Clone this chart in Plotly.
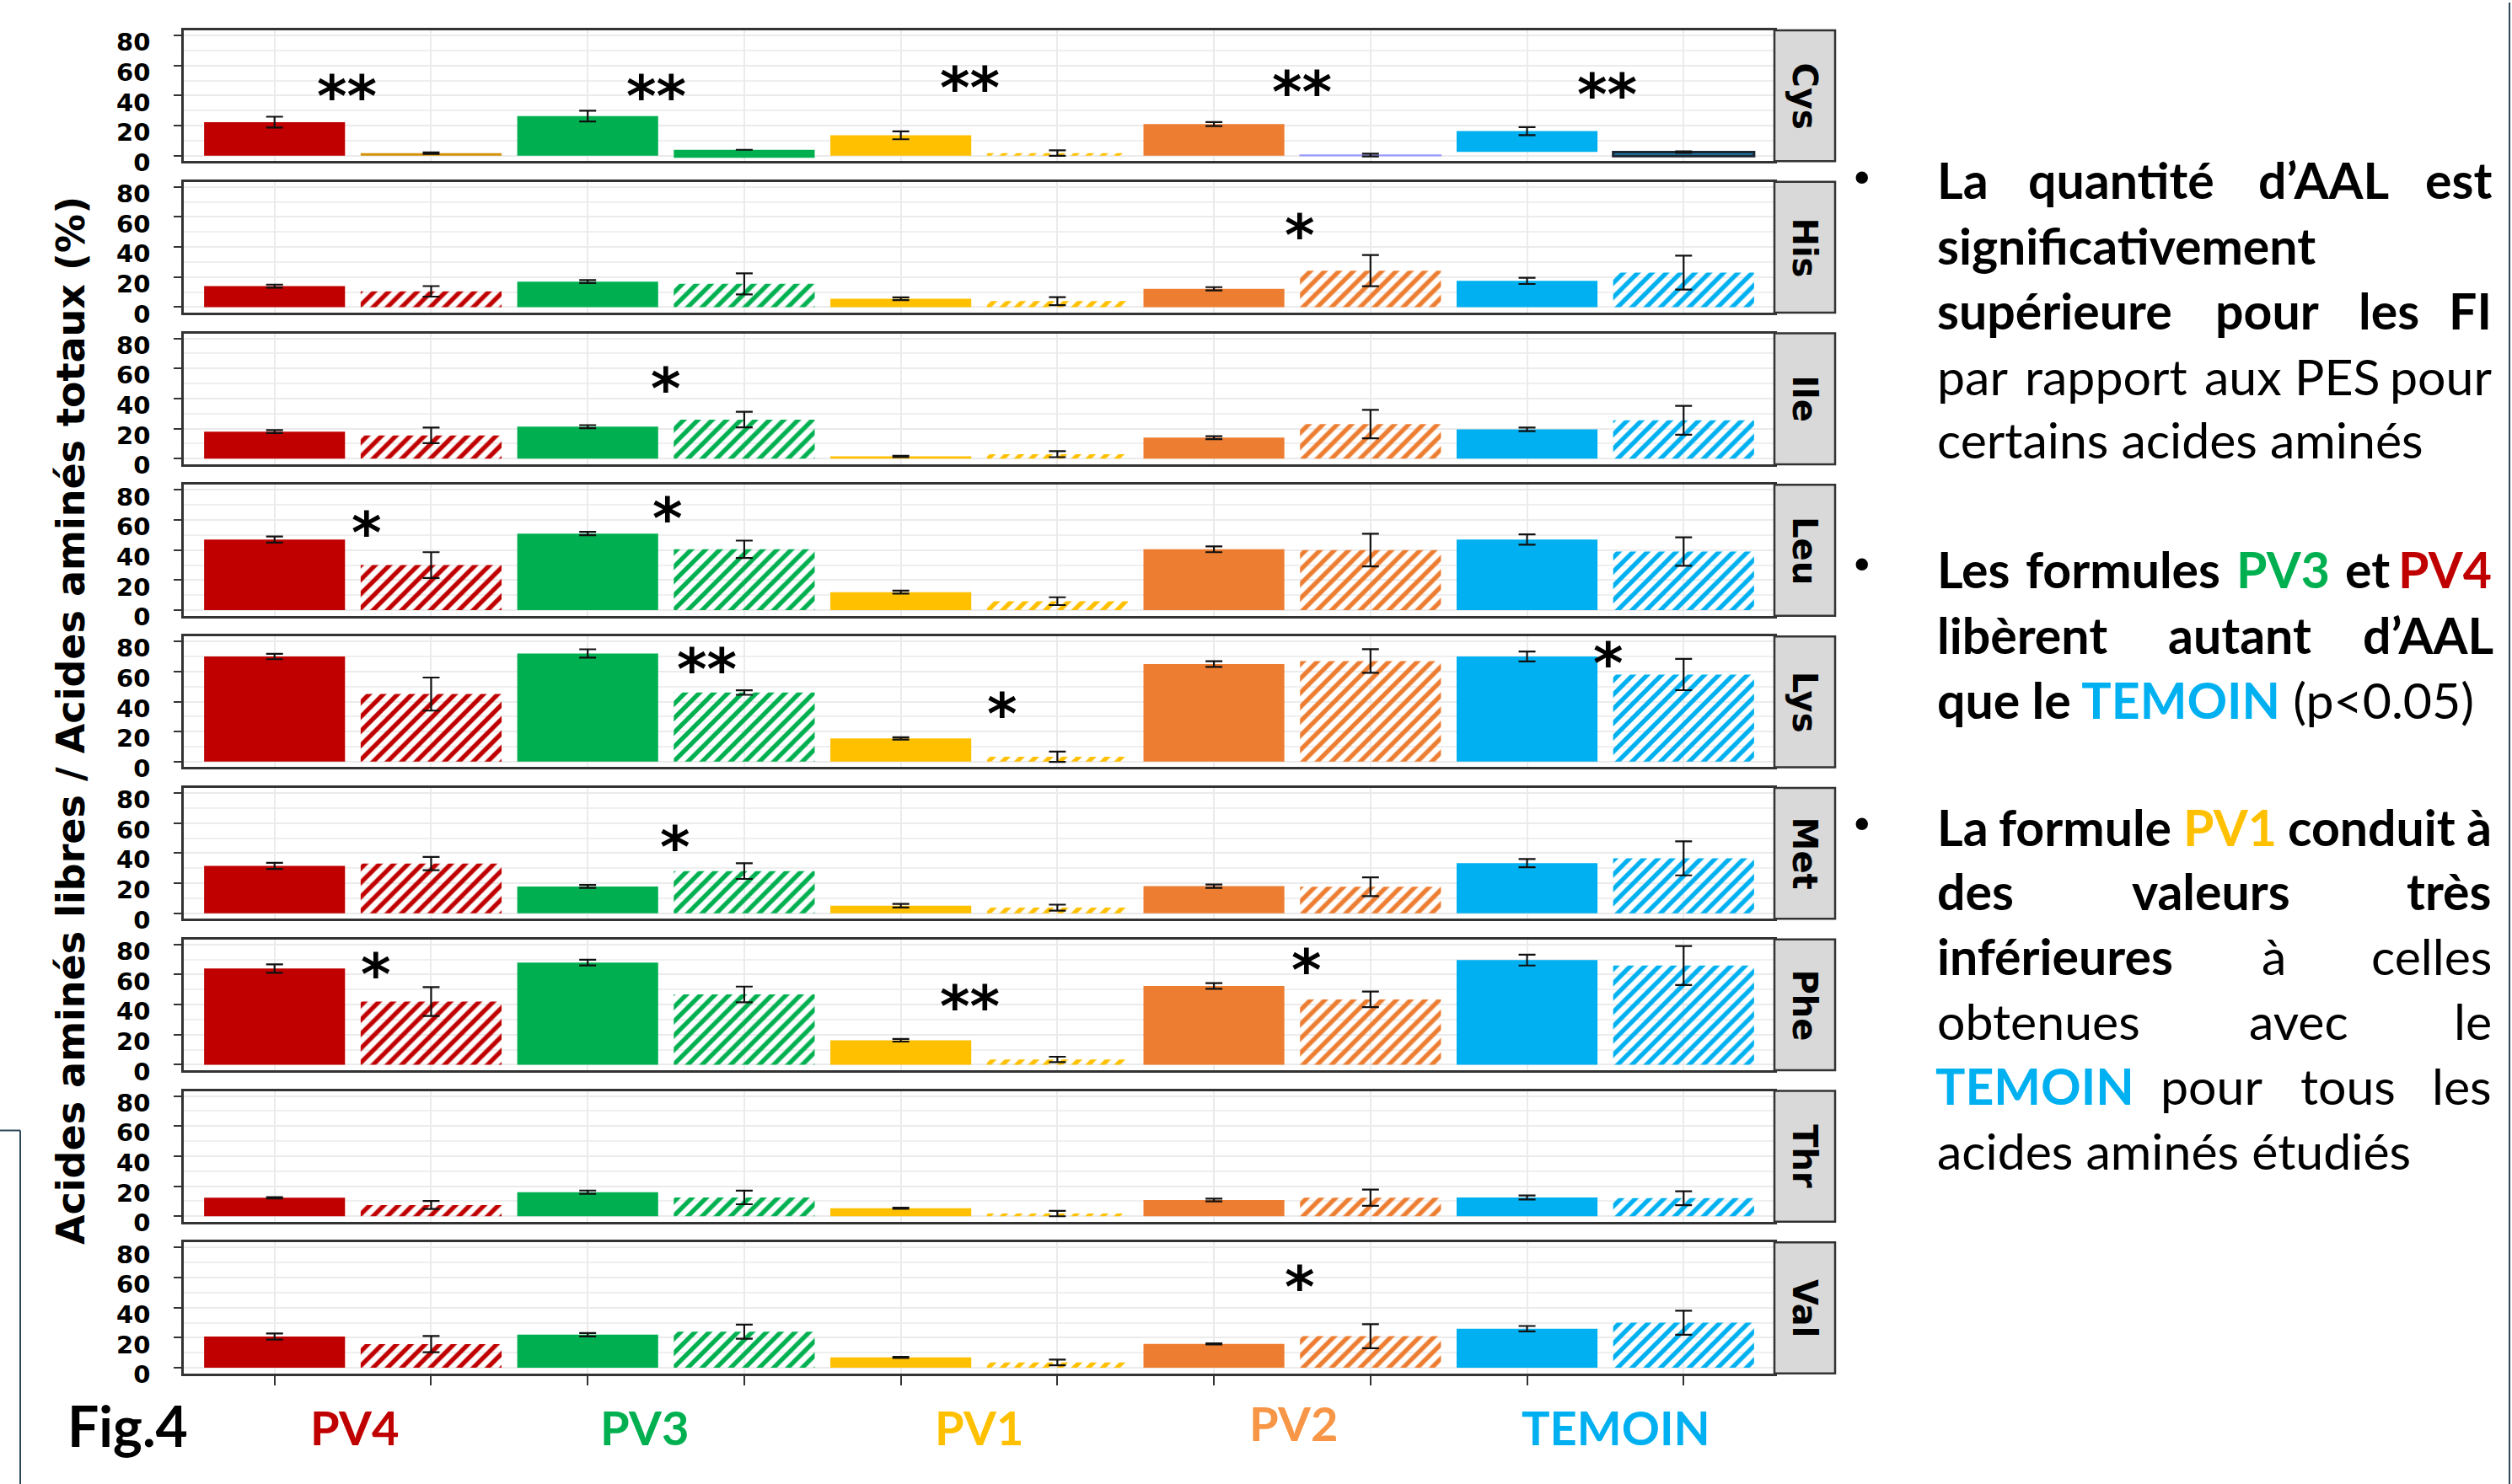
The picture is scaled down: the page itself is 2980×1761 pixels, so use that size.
import plotly.graph_objects as go

# ---------------- data ----------------
FORMULAS = ["PV4", "PV3", "PV1", "PV2", "TEMOIN"]
AMINO_ACIDS = ["Cys", "His", "Ile", "Leu", "Lys", "Met", "Phe", "Thr", "Val"]
FORMULA_COLORS = ["#C00000", "#00B050", "#FFC000", "#ED7D31", "#00B0F0"]
LABEL_COLORS = ["#C00000", "#00B050", "#FFC000", "#F79646", "#00B0F0"]

# solid bars (FI) and hatched bars (PES): means and error half-widths, one value per formula
CYS_FI = [22.3, 26.3, 13.5, 21.0, 16.3]
CYS_FI_ERR = [3.6, 3.6, 2.6, 1.3, 2.7]
CYS_FI_BASE = [0, 0, 0, 0, 2.5]
CYS_PES = [1.7, 3.9, 1.7, 0.4, 2.3]
CYS_PES_ERR = [0.5, 0.0, 1.8, 0.9, 0.5]
CYS_PES_BASE = [0, -1.5, 0, 0, -0.3]

HIS_FI = [14.0, 17.0, 5.6, 12.2, 17.5]
HIS_FI_ERR = [1.0, 1.0, 0.9, 1.1, 2.1]
HIS_PES = [10.5, 15.5, 4.0, 24.3, 23.0]
HIS_PES_ERR = [3.5, 7.0, 2.7, 10.4, 11.3]

ILE_FI = [18.0, 21.3, 1.5, 14.0, 19.5]
ILE_FI_ERR = [1.0, 1.0, 0.4, 1.0, 1.2]
ILE_PES = [15.5, 26.0, 3.0, 23.0, 25.5]
ILE_PES_ERR = [5.2, 5.2, 2.0, 9.5, 9.6]

LEU_FI = [47.0, 51.0, 12.0, 40.5, 47.0]
LEU_FI_ERR = [2.0, 1.1, 1.0, 1.9, 3.4]
LEU_PES = [30.0, 40.5, 6.0, 40.0, 39.0]
LEU_PES_ERR = [8.6, 5.8, 2.6, 10.9, 9.5]

LYS_FI = [70.0, 72.0, 15.5, 65.0, 70.0]
LYS_FI_ERR = [1.8, 2.8, 0.8, 1.9, 3.3]
LYS_PES = [45.0, 46.0, 3.3, 67.0, 58.0]
LYS_PES_ERR = [11.0, 1.5, 3.4, 7.9, 10.4]

MET_FI = [31.5, 17.8, 5.0, 18.0, 33.3]
MET_FI_ERR = [2.0, 1.0, 1.2, 1.1, 2.7]
MET_PES = [33.0, 28.0, 3.7, 17.6, 36.5]
MET_PES_ERR = [4.4, 5.2, 2.0, 6.2, 11.3]

PHE_FI = [64.0, 68.0, 16.3, 52.4, 69.6]
PHE_FI_ERR = [2.8, 1.9, 0.9, 1.9, 3.6]
PHE_PES = [42.0, 46.8, 3.5, 43.5, 66.0]
PHE_PES_ERR = [9.6, 5.2, 1.8, 5.2, 13.0]

THR_FI = [12.3, 16.0, 5.3, 10.8, 12.5]
THR_FI_ERR = [0.4, 1.1, 0.4, 0.9, 1.3]
THR_PES = [7.5, 12.5, 1.8, 12.3, 12.0]
THR_PES_ERR = [2.7, 4.5, 1.8, 5.4, 4.6]

VAL_FI = [20.8, 22.0, 6.9, 15.9, 26.0]
VAL_FI_ERR = [2.0, 1.1, 0.4, 0.4, 1.8]
VAL_PES = [15.7, 24.0, 3.5, 21.0, 30.0]
VAL_PES_ERR = [5.4, 4.7, 1.9, 8.0, 8.0]

Y_TICKS = [0, 20, 40, 60, 80]
Y_MINOR = [10, 30, 50, 70]
Y_RANGE = [-3.7, 83.4]

# significance marks: panel, x (category units), y (value), text
STAR_PANEL = ["Cys", "Cys", "Cys", "Cys", "Cys", "His", "Ile", "Leu", "Leu",
              "Lys", "Lys", "Lys", "Met", "Phe", "Phe", "Phe", "Val"]
STAR_X = [0.46, 2.44, 4.44, 6.56, 8.51, 6.55, 2.50, 0.59, 2.51,
          2.76, 4.65, 8.52, 2.56, 0.65, 4.44, 6.59, 6.55]
STAR_Y = [44, 44, 49.5, 46.4, 45, 52, 51, 55.7, 65.6,
          66, 36.3, 69.7, 48.5, 64.7, 43.3, 67.5, 57.9]
STAR_TEXT = ["**", "**", "**", "**", "**", "*", "*", "*", "*",
             "**", "*", "*", "*", "*", "**", "*", "*"]

GROUP_LABEL_X = [0.51, 2.36, 4.50, 6.51, 8.57]

DATA = {
    "Cys": (CYS_FI, CYS_FI_ERR, CYS_PES, CYS_PES_ERR),
    "His": (HIS_FI, HIS_FI_ERR, HIS_PES, HIS_PES_ERR),
    "Ile": (ILE_FI, ILE_FI_ERR, ILE_PES, ILE_PES_ERR),
    "Leu": (LEU_FI, LEU_FI_ERR, LEU_PES, LEU_PES_ERR),
    "Lys": (LYS_FI, LYS_FI_ERR, LYS_PES, LYS_PES_ERR),
    "Met": (MET_FI, MET_FI_ERR, MET_PES, MET_PES_ERR),
    "Phe": (PHE_FI, PHE_FI_ERR, PHE_PES, PHE_PES_ERR),
    "Thr": (THR_FI, THR_FI_ERR, THR_PES, THR_PES_ERR),
    "Val": (VAL_FI, VAL_FI_ERR, VAL_PES, VAL_PES_ERR),
}

# ---------------- layout constants ----------------
W, H = 2980, 1761      # target picture (positions below are given in these pixels)
FIG_H = 1780           # figure height in the page (capture is squeezed to H)


def px(x):
    return x / W


def py(y):
    return 1 - y / H


X_L, X_R = 218, 2105
STRIP_R = 2177
P_TOP0, P_STEP, P_H = 33, 180, 155.5
TICKFONT = dict(family="DejaVu Sans", size=29, color="black", weight="bold")
TXT = "Lato"
TXT_SIZE = 59

fig = go.Figure()
solid_x = [0, 2, 4, 6, 8]
hatch_x = [1, 3, 5, 7, 9]
shapes = []
annotations = []

for k, aa in enumerate(AMINO_ACIDS):
    sfx = "" if k == 0 else str(k + 1)
    xr, yr = "x" + sfx, "y" + sfx
    fi, fi_err, pes, pes_err = DATA[aa]
    fi_base = CYS_FI_BASE if aa == "Cys" else [0] * 5
    pes_base = CYS_PES_BASE if aa == "Cys" else [0] * 5

    fig.add_trace(go.Bar(
        x=solid_x, y=[t - b for t, b in zip(fi, fi_base)], base=fi_base, width=0.9,
        marker=dict(color=FORMULA_COLORS, line=dict(width=0)),
        xaxis=xr, yaxis=yr, showlegend=False, hoverinfo="skip"))

    h_color = list(FORMULA_COLORS)
    h_shape = ["/"] * 5
    h_fg = list(FORMULA_COLORS)
    h_bg = ["white"] * 5
    h_lc = ["rgba(0,0,0,0)"] * 5
    h_lw = [0] * 5
    if aa == "Cys":
        h_color = ["#D4920A", "#00B050", "#FFC000", "#9B9BFF", "#1F7FB0"]
        h_shape = ["", "", "/", "", ""]
        h_lc = ["rgba(0,0,0,0)", "rgba(0,0,0,0)", "rgba(0,0,0,0)", "#9B9BFF", "#1B2633"]
        h_lw = [0, 0, 0, 1.5, 3]
    fig.add_trace(go.Bar(
        x=hatch_x, y=[t - b for t, b in zip(pes, pes_base)], base=pes_base, width=0.9,
        marker=dict(color=h_color,
                    pattern=dict(shape=h_shape, fgcolor=h_fg, bgcolor=h_bg,
                                 size=12, solidity=0.45, fillmode="replace"),
                    line=dict(color=h_lc, width=h_lw)),
        xaxis=xr, yaxis=yr, showlegend=False, hoverinfo="skip"))

    ex, ey, ee = [], [], []
    for i in range(5):
        ex += [solid_x[i], hatch_x[i]]
        ey += [fi[i], pes[i]]
        ee += [fi_err[i], pes_err[i]]
    fig.add_trace(go.Scatter(
        x=ex, y=ey, mode="markers", marker=dict(size=1, color="rgba(0,0,0,0)"),
        error_y=dict(type="data", array=ee, visible=True, color="#111111",
                     thickness=2.2, width=10),
        xaxis=xr, yaxis=yr, showlegend=False, hoverinfo="skip"))

    top = P_TOP0 + k * P_STEP
    bot = top + P_H
    last = (k == len(AMINO_ACIDS) - 1)
    fig.layout["xaxis" + sfx] = dict(
        domain=[px(X_L), px(X_R)], anchor=yr, range=[-0.58, 9.58],
        tickvals=list(range(10)), showticklabels=False,
        ticks="outside" if last else "", ticklen=12, tickwidth=2, tickcolor="#333333",
        showgrid=True, gridcolor="#EBEBEB", gridwidth=1.5,
        showline=True, mirror=True, linecolor="#333333", linewidth=2.5,
        zeroline=False, fixedrange=True)
    fig.layout["yaxis" + sfx] = dict(
        domain=[py(bot), py(top)], anchor=xr, range=Y_RANGE,
        tickvals=Y_TICKS, ticktext=[str(v) for v in Y_TICKS],
        ticks="outside", ticklen=9, tickwidth=2, tickcolor="#333333",
        tickfont=TICKFONT, ticklabelstandoff=22, ticklabelshift=8,
        showgrid=True, gridcolor="#EBEBEB", gridwidth=2,
        minor=dict(tickvals=Y_MINOR, showgrid=True, gridcolor="#EFEFEF", gridwidth=1.5),
        showline=True, mirror=True, linecolor="#333333", linewidth=2.5,
        zeroline=False, fixedrange=True)

    # facet strip
    shapes.append(dict(type="rect", xref="paper", yref="paper",
                       x0=px(X_R), x1=px(STRIP_R), y0=py(bot), y1=py(top),
                       fillcolor="#D9D9D9", line=dict(color="#333333", width=2.5)))
    annotations.append(dict(xref="paper", yref="paper", x=px((X_R + STRIP_R) / 2),
                            y=py((top + bot) / 2), text=aa, textangle=90,
                            showarrow=False, xanchor="center", yanchor="middle",
                            font=dict(family="DejaVu Sans", size=40, color="black",
                                      weight="bold")))

# significance stars
for p, sx, sy, st in zip(STAR_PANEL, STAR_X, STAR_Y, STAR_TEXT):
    k = AMINO_ACIDS.index(p)
    sfx = "" if k == 0 else str(k + 1)
    annotations.append(dict(xref="x" + sfx, yref="y" + sfx, x=sx, y=sy, text=st,
                            showarrow=False, xanchor="center", yanchor="middle",
                            yshift=-8,
                            font=dict(family="DejaVu Sans", size=68, color="black",
                                      weight="bold")))

# group labels under the last panel
last_x = "x" + str(len(AMINO_ACIDS))
for name, gx, col in zip(FORMULAS, GROUP_LABEL_X, LABEL_COLORS):
    yy = 1687 if name == "PV2" else 1692
    annotations.append(dict(xref=last_x, yref="paper", x=gx, y=py(yy),
                            text="<b>%s</b>" % name, showarrow=False,
                            xanchor="center", yanchor="middle",
                            font=dict(family=TXT, size=56, color=col)))

annotations.append(dict(xref="paper", yref="paper", x=px(151), y=py(1690),
                        text="<b>Fig.4</b>", showarrow=False, xanchor="center",
                        yanchor="middle", font=dict(family=TXT, size=66, color="black")))

# y axis title
annotations.append(dict(xref="paper", yref="paper", x=px(84), y=py(853),
                        text="Acides aminés libres / Acides aminés totaux (%)",
                        textangle=-90, showarrow=False, xanchor="center", yanchor="middle",
                        font=dict(family="DejaVu Sans", size=46, color="black",
                                  weight="bold")))

# ---------------- right-hand text block ----------------
GREEN, RED, BLUE, YELLOW = "#00B050", "#C00000", "#00B0F0", "#FFC000"
# each word: (text, left_px, right_px, bold, color)
TEXT_LINES = [
    (211, [("La", 2296, 2350, 1, "black"), ("quantité", 2406, 2627, 1, "black"),
           ("d’AAL", 2683, 2829, 1, "black"), ("est", 2883, 2958, 1, "black")]),
    (289, [("significativement", 2296, None, 1, "black")]),
    (366, [("supérieure", 2296, 2577, 1, "black"), ("pour", 2627, 2751, 1, "black"),
           ("les", 2798, 2869, 1, "black"), ("FI", 2916, 2958, 1, "black")]),
    (444, [("par", 2296, 2380, 0, "black"), ("rapport", 2403, 2594, 0, "black"),
           ("aux", 2616, 2706, 0, "black"), ("PES", 2728, 2818, 0, "black"),
           ("pour", 2841, 2958, 0, "black")]),
    (519, [("certains acides aminés", 2296, None, 0, "black")]),
    (673, [("Les", 2296, 2381, 1, "black"), ("formules", 2400, 2636, 1, "black"),
           ("PV3", 2658, 2759, 1, GREEN), ("et", 2782, 2835, 1, "black"),
           ("PV4", 2857, 2958, 1, RED)]),
    (751, [("libèrent", 2296, 2501, 1, "black"), ("autant", 2571, 2742, 1, "black"),
           ("d’AAL", 2815, 2960, 1, "black")]),
    (828, [("<b>que le <span style='color:%s'>TEMOIN</span></b> (p&lt;0.05)" % BLUE,
            2296, None, 0, "black")]),
    (980, [("La", 2296, 2350, 1, "black"), ("formule", 2369, 2577, 1, "black"),
           ("PV1", 2596, 2695, 1, YELLOW), ("conduit", 2714, 2913, 1, "black"),
           ("à", 2927, 2958, 1, "black")]),
    (1056, [("des", 2296, 2386, 1, "black"), ("valeurs", 2529, 2717, 1, "black"),
            ("très", 2860, 2958, 1, "black")]),
    (1133, [("inférieures", 2296, 2580, 1, "black"), ("à", 2683, 2711, 0, "black"),
            ("celles", 2818, 2958, 0, "black")]),
    (1210, [("obtenues", 2296, 2538, 0, "black"), ("avec", 2669, 2784, 0, "black"),
            ("le", 2916, 2958, 0, "black")]),
    (1287, [("TEMOIN", 2294, 2512, 1, BLUE), ("pour", 2563, 2683, 0, "black"),
            ("tous", 2731, 2840, 0, "black"), ("les", 2891, 2958, 0, "black")]),
    (1364, [("acides aminés étudiés", 2296, None, 0, "black")]),
]
for ly, words in TEXT_LINES:
    n = len(words)
    for j, (wt, l, r, b, c) in enumerate(words):
        if r is None or j == 0:
            xa, xp = "left", l
        elif j == n - 1:
            xa, xp = "right", r
        else:
            xa, xp = "center", (l + r) / 2
        txt = "<b>%s</b>" % wt if b else wt
        annotations.append(dict(xref="paper", yref="paper", x=px(xp), y=py(ly),
                                text=txt, showarrow=False, xanchor=xa, yanchor="middle",
                                font=dict(family=TXT, size=TXT_SIZE, color=c)))

for by in [209, 669, 977]:
    annotations.append(dict(xref="paper", yref="paper", x=px(2209), y=py(by),
                            text="•", showarrow=False, xanchor="center", yanchor="middle",
                            font=dict(family="DejaVu Sans", size=50, color="black")))

# frame lines of the slide
shapes.append(dict(type="line", xref="paper", yref="paper", x0=0, x1=px(24),
                   y0=py(1340), y1=py(1340), line=dict(color="#2E4A5A", width=2)))
shapes.append(dict(type="line", xref="paper", yref="paper", x0=px(24), x1=px(24),
                   y0=py(1340), y1=0, line=dict(color="#2E4A5A", width=2)))
shapes.append(dict(type="line", xref="paper", yref="paper", x0=px(2977), x1=px(2977),
                   y0=0, y1=1, line=dict(color="#2E4A5A", width=2)))

fig.update_layout(
    width=W, height=FIG_H, autosize=False,
    margin=dict(l=0, r=0, t=0, b=0),
    paper_bgcolor="white", plot_bgcolor="white",
    barmode="overlay", showlegend=False,
    shapes=shapes, annotations=annotations,
)

PAGE_FIX = ("document.documentElement.style.margin='0';"
            "document.documentElement.style.overflow='hidden';"
            "document.body.style.margin='0';"
            "document.body.style.padding='0';"
            "document.body.style.overflow='hidden';"
            "document.body.style.fontSize='0px';"
            "document.body.style.lineHeight='0';")

fig.write_html("out.html", post_script=PAGE_FIX, config={"displayModeBar": False})
